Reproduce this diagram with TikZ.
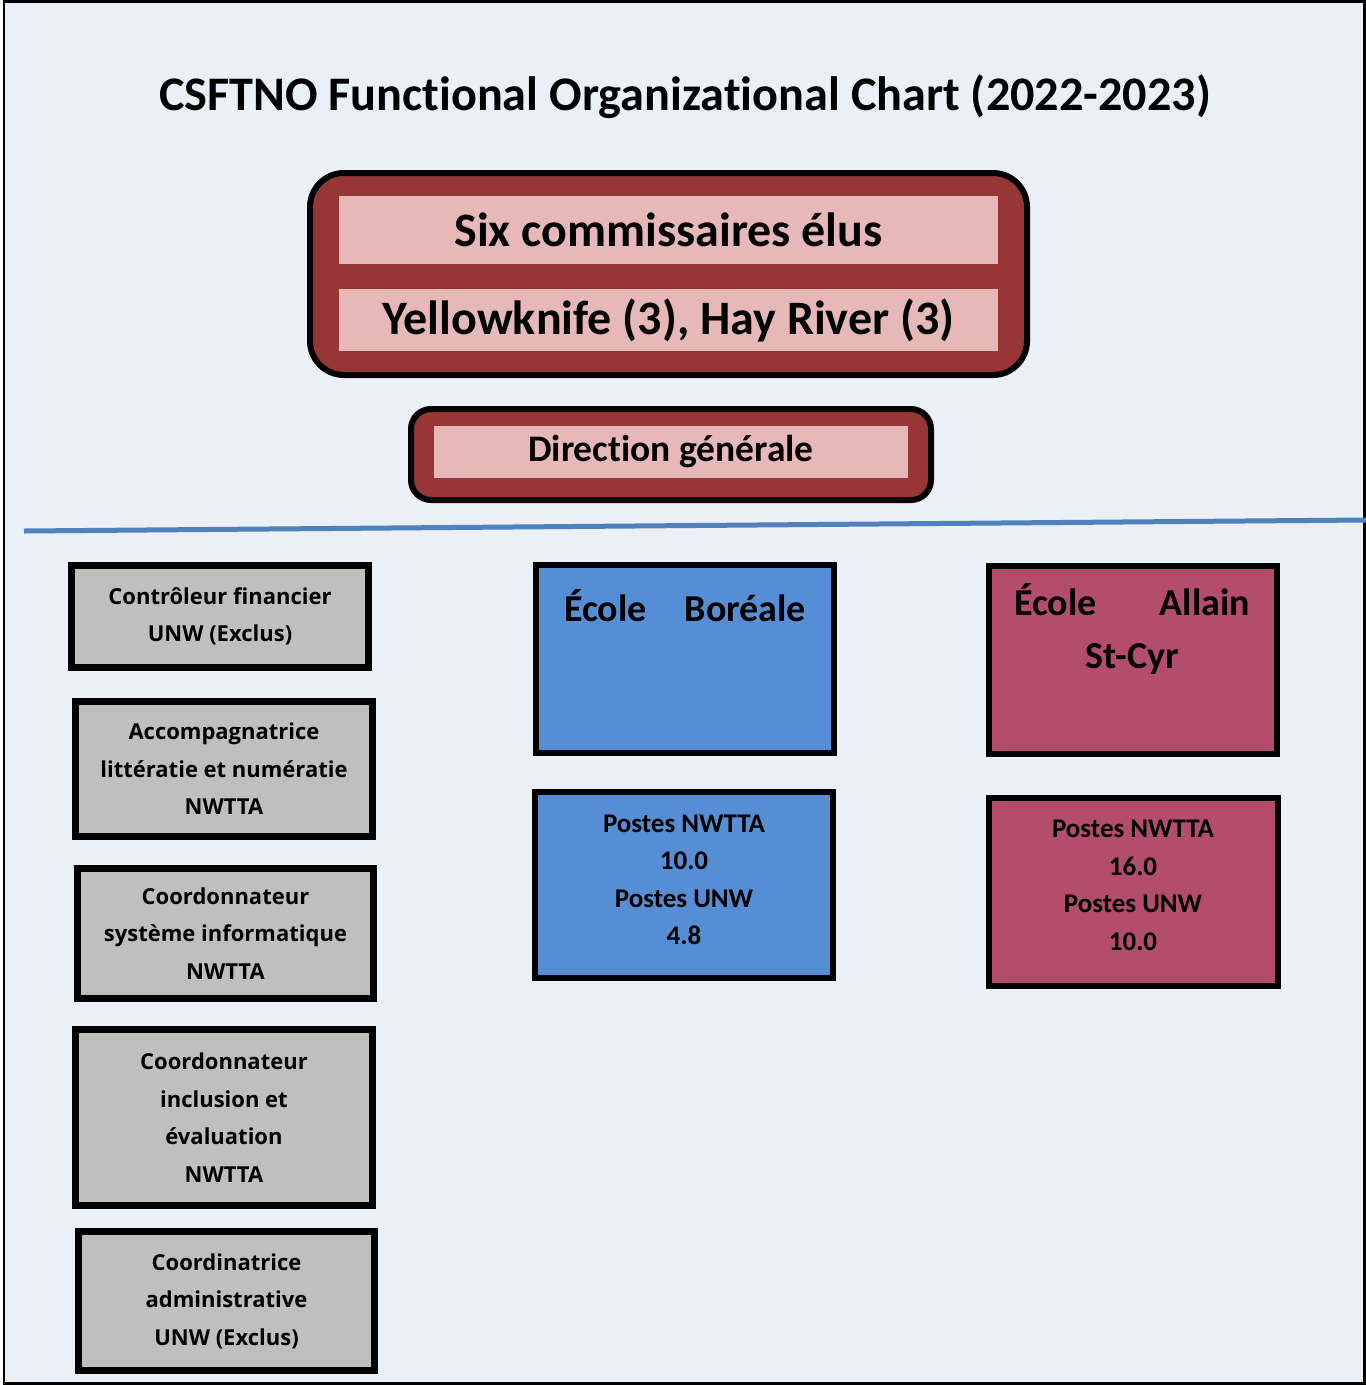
\documentclass[tikz,border=0pt]{standalone}
\usepackage{fontspec}
\setmainfont{Carlito}[Ligatures=NoCommon]
\newfontfamily\stafffont{Open Sans}
\usetikzlibrary{positioning}

\definecolor{pagebg}{RGB}{235,240,247}
\definecolor{boardred}{RGB}{150,55,53}
\definecolor{bandpink}{RGB}{230,184,183}
\definecolor{staffgrey}{RGB}{191,191,191}
\definecolor{boreblue}{RGB}{85,142,213}
\definecolor{allainrose}{RGB}{180,76,110}
\definecolor{rulecol}{RGB}{79,129,189}

\begin{document}
\begin{tikzpicture}[
    x=1pt, y=-1pt,
    % outer red boards and the pink bands inside them
    board/.style={draw=black, line width=6pt, fill=boardred},
    band/.style={fill=bandpink, inner sep=0pt, font=\bfseries\fontsize{48}{54}\selectfont},
    % grey staff boxes on the left
    staffbox/.style={draw=black, line width=7pt, fill=staffgrey, minimum width=297pt,
        align=center, inner sep=0pt, font=\stafffont\bfseries\fontsize{22}{37.5}\selectfont},
    % school boxes
    schoolbox/.style={draw=black, line width=6pt, fill=#1, inner sep=0pt},
    schooltext/.style={align=center, font=\bfseries\fontsize{38}{53}\selectfont},
    postetext/.style={align=center, font=\bfseries\fontsize{27}{37.5}\selectfont}
]

    % page and frame
    \useasboundingbox (0,0) rectangle (1366,1385);
    \fill[white] (0,0) rectangle (1366,1385);
    \draw[fill=pagebg, line width=2.5pt] (4,1.5) rectangle (1364.5,1383.5);

    % title
    \node[font=\bfseries\fontsize{48.2}{54}\selectfont] (title) at (685,97) {CSFTNO Functional Organizational Chart (2022-2023)};

    % --- Board ---
    \node[board, rounded corners=34pt, minimum width=717pt, minimum height=202pt] (board) at (668.5,274) {};
    \node[band, minimum width=659pt, minimum height=68pt] (elus) at (668.5,230) {Six commissaires élus};
    \node[band, minimum width=659pt, minimum height=62pt] (villes) at (668.5,320) {Yellowknife (3), Hay River (3)};

    % --- Direction ---
    \node[board, rounded corners=20pt, minimum width=520pt, minimum height=91pt] (dirbox) at (671,454.5) {};
    \node[band, minimum width=474pt, minimum height=52pt, font=\bfseries\fontsize{37.5}{42}\selectfont] (direction) at (671,452) {Direction générale};

    % separator
    \coordinate (ruleW) at (24,531);
    \coordinate (ruleE) at (1366,520);
    \draw[rulecol, line width=5pt] (ruleW) -- (ruleE);

    % --- Staff column ---
    \node[staffbox, minimum height=102pt] (ctrl) at (220,616.5) {Contrôleur financier\\UNW (Exclus)};
    \node[staffbox, minimum height=135pt] (accomp) at (224,769) {Accompagnatrice\\littératie et numératie\\NWTTA};
    \node[staffbox, minimum width=296pt, minimum height=130pt] (syst) at (225.5,933.5) {Coordonnateur\\système informatique\\NWTTA};
    \node[staffbox, minimum height=176pt] (incl) at (224,1117.5) {Coordonnateur\\inclusion et\\évaluation\\NWTTA};
    \node[staffbox, minimum width=296pt, minimum height=139pt] (admin) at (226.5,1301) {Coordinatrice\\administrative\\UNW (Exclus)};

    % --- École Boréale ---
    \node[schoolbox=boreblue, minimum width=298pt, minimum height=188pt] (boreale) at (685,659) {};
    \node[schooltext, text width=242pt, anchor=base] (borealename) at (685,621) {\makebox[\linewidth]{École\hfill Boréale}};
    \node[schoolbox=boreblue, minimum width=298pt, minimum height=186pt] (borealepostes) at (684,885) {};
    \node[postetext] (borealenum) at (684,880) {Postes NWTTA\\10.0\\Postes UNW\\4.8};

    % --- École Allain St-Cyr ---
    \node[schoolbox=allainrose, minimum width=288pt, minimum height=188pt] (allain) at (1133,660) {};
    \node[schooltext, text width=236pt, anchor=north] (allainname) at (1132,580) {\makebox[\linewidth]{École\hfill Allain}\\St-Cyr};
    \node[schoolbox=allainrose, minimum width=289pt, minimum height=188pt] (allainpostes) at (1133.5,892) {};
    \node[postetext] (allainnum) at (1133,885.5) {Postes NWTTA\\16.0\\Postes UNW\\10.0};

\end{tikzpicture}
\end{document}
